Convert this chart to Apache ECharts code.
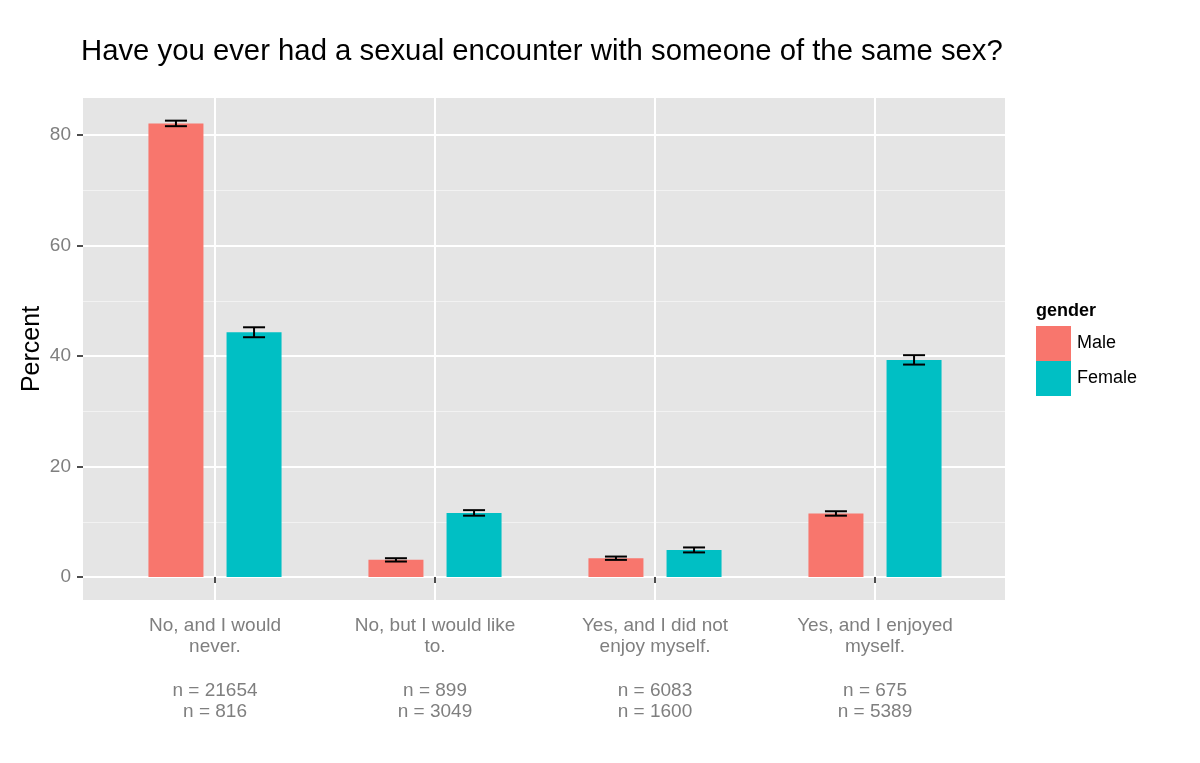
<!DOCTYPE html>
<html>
<head>
<meta charset="utf-8">
<script src="https://cdn.jsdelivr.net/npm/echarts@6/dist/echarts.min.js"></script>
<style>html,body{margin:0;padding:0;background:#fff}#c{width:1200px;height:763px}</style>
</head>
<body>
<div id="c"></div>
<script>
const categories = ["No, and I would\nnever.", "No, but I would like\nto.", "Yes, and I did not\nenjoy myself.", "Yes, and I enjoyed\nmyself."];
const maleN = [21654, 899, 6083, 675];
const femaleN = [816, 3049, 1600, 5389];
const maleValues = [82.1, 3.1, 3.4, 11.5];
const femaleValues = [44.3, 11.6, 4.9, 39.3];
const maleErr = [0.5, 0.3, 0.3, 0.4];
const femaleErr = [0.9, 0.5, 0.45, 0.85];
const yTicks = [0, 20, 40, 60, 80];

const BAR_W = 55, GAP_RATIO = 0.42;
const FONT = '"Liberation Sans", Arial, sans-serif';

const labels = categories.map((c, i) =>
  c.split("\n").map(s => "{a|" + s + "}").join("\n") +
  "\n{g| }\n{a|n = " + maleN[i] + "}\n{a|n = " + femaleN[i] + "}");

function errRender(sign) {
  return function (params, api) {
    const x = api.value(0);
    const lo = api.coord([x, api.value(1)]);
    const hi = api.coord([x, api.value(2)]);
    const band = api.size([1, 0])[0];
    const off = sign * (BAR_W + BAR_W * GAP_RATIO) / 2;
    const cx = lo[0] + off;
    const hw = band * 0.05;
    const st = { stroke: '#000', lineWidth: 2 };
    return {
      type: 'group',
      children: [
        { type: 'line', shape: { x1: cx, y1: hi[1], x2: cx, y2: lo[1] }, style: st },
        { type: 'line', shape: { x1: cx - hw, y1: hi[1], x2: cx + hw, y2: hi[1] }, style: st },
        { type: 'line', shape: { x1: cx - hw, y1: lo[1], x2: cx + hw, y2: lo[1] }, style: st }
      ]
    };
  };
}

const chart = echarts.init(document.getElementById('c'), null, { renderer: 'canvas' });
chart.setOption({
  animation: false,
  textStyle: { fontFamily: FONT },
  title: [
    { text: 'Have you ever had a sexual encounter with someone of the same sex?', left: 81, top: 37, padding: 0,
      textStyle: { fontSize: 29.3, fontWeight: 'normal', color: '#000', fontFamily: FONT } },
    { text: 'gender', left: 1036, top: 302, padding: 0,
      textStyle: { fontSize: 18, fontWeight: 'bold', color: '#000', fontFamily: FONT } }
  ],
  legend: {
    data: ['Male', 'Female'], orient: 'vertical', left: 1036, top: 326, padding: 0,
    itemWidth: 35, itemHeight: 35, itemGap: 0, icon: 'rect',
    textStyle: { fontSize: 18, color: '#000', fontFamily: FONT, padding: [5, 0, 0, 1] }
  },
  graphic: [
    { type: 'rect', z: -100, silent: true, shape: { x: 83, y: 98, width: 922, height: 502 }, style: { fill: '#E5E5E5' } }
  ],
  grid: [
    { left: 83, top: 135, width: 922, height: 442, containLabel: false },
    { left: 215, top: 98, width: 660, height: 502, containLabel: false }
  ],
  xAxis: [
    { gridIndex: 0, type: 'value', show: false, min: 0, max: 1 },
    { gridIndex: 1, type: 'category', data: labels, boundaryGap: false,
      axisLine: { show: false },
      axisTick: { show: true, length: 6, lineStyle: { color: '#4D4D4D', width: 2 } },
      axisLabel: { color: '#7F7F7F', fontSize: 19, lineHeight: 21, margin: 15, interval: 0, fontFamily: FONT,
        rich: { a: { color: '#7F7F7F', fontSize: 19, lineHeight: 21, fontFamily: FONT },
                g: { fontSize: 10, lineHeight: 23 } } },
      splitLine: { show: true, lineStyle: { color: '#FFFFFF', width: 2 } } }
  ],
  yAxis: [
    { gridIndex: 0, type: 'value', min: yTicks[0], max: yTicks[yTicks.length - 1], interval: 20,
      axisLine: { show: false },
      axisTick: { show: true, length: 6, lineStyle: { color: '#4D4D4D', width: 2 } },
      axisLabel: { color: '#7F7F7F', fontSize: 19, margin: 12, fontFamily: FONT },
      splitLine: { show: true, lineStyle: { color: '#FFFFFF', width: 2 } },
      minorTick: { show: false, splitNumber: 2 },
      minorSplitLine: { show: true, lineStyle: { color: '#F2F2F2', width: 1 } } },
    { gridIndex: 1, type: 'value', min: -4.163, max: 86.70,
      axisLine: { show: false }, axisTick: { show: false }, axisLabel: { show: false },
      splitLine: { show: false },
      name: 'Percent', nameLocation: 'middle', nameGap: 170,
      nameTextStyle: { fontSize: 25, color: '#000', fontFamily: FONT } }
  ],
  series: [
    { name: 'Male', type: 'bar', xAxisIndex: 1, yAxisIndex: 1, data: maleValues,
      barWidth: BAR_W, barGap: (GAP_RATIO * 100) + '%', itemStyle: { color: '#F8766D' } },
    { name: 'Female', type: 'bar', xAxisIndex: 1, yAxisIndex: 1, data: femaleValues,
      barWidth: BAR_W, barGap: (GAP_RATIO * 100) + '%', itemStyle: { color: '#00BFC4' } },
    { name: 'MaleErr', type: 'custom', xAxisIndex: 1, yAxisIndex: 1, z: 5,
      data: maleValues.map((v, i) => [i, v - maleErr[i], v + maleErr[i]]),
      renderItem: errRender(-1) },
    { name: 'FemaleErr', type: 'custom', xAxisIndex: 1, yAxisIndex: 1, z: 5,
      data: femaleValues.map((v, i) => [i, v - femaleErr[i], v + femaleErr[i]]),
      renderItem: errRender(1) }
  ]
});
</script>
</body>
</html>
